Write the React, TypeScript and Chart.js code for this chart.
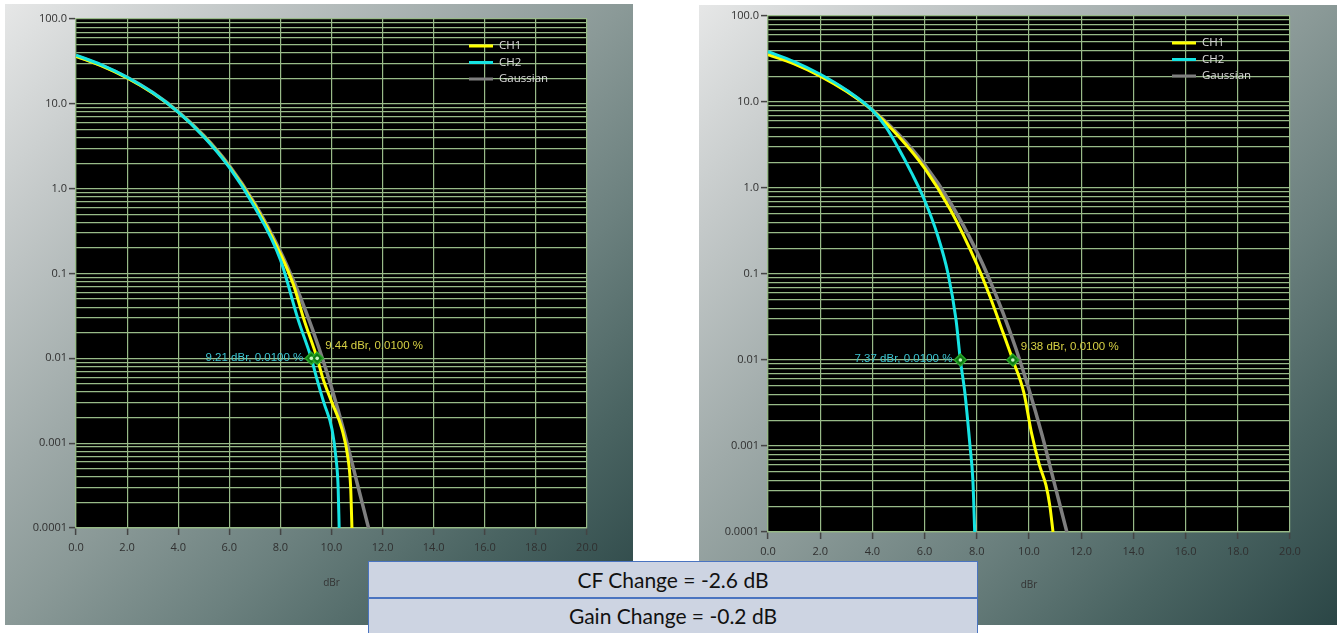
import React, { useEffect, useRef } from 'react';
import { Chart, registerables } from 'chart.js';

Chart.register(...registerables);

// ---------- data ----------
const X_TICKS = [0, 2, 4, 6, 8, 10, 12, 14, 16, 18, 20];
const Y_MAJOR = [0.0001, 0.001, 0.01, 0.1, 1, 10, 100];
const Y_LABELS = ['0.0001', '0.001', '0.01', '0.1', '1.0', '10.0', '100.0'];
const SERIES_NAMES = ['CH1', 'CH2', 'Gaussian'];
const X_TITLE = 'dBr';

const GAUSS_X = [0, 1, 2, 3, 4, 5, 6, 7, 8, 8.5, 9, 9.5, 10, 10.5, 11, 11.45];
const GAUSS_Y = [36.8, 28.4, 20.5, 13.6, 8.11, 4.23, 1.87, 0.665, 0.182, 0.0843, 0.0355, 0.0135, 0.00454, 0.00134, 0.000341, 0.0001];

// left chart
const L_CH1_X = [0, 1, 2, 3, 4, 5, 6, 7, 8, 8.5, 8.92, 9.44, 9.67, 10.0, 10.41, 10.65, 10.75, 10.8];
const L_CH1_Y = [36.3, 28.0, 20.2, 13.4, 8.0, 4.15, 1.82, 0.64, 0.17, 0.075, 0.0288, 0.01, 0.0057, 0.0031, 0.00146, 0.00065, 0.0003, 0.0001];
const L_CH2_X = [0, 1, 2, 3, 4, 5, 6, 7, 8, 8.69, 9.21, 9.43, 9.7, 10.02, 10.18, 10.26, 10.3];
const L_CH2_Y = [37.5, 28.8, 20.6, 13.6, 8.0, 4.1, 1.78, 0.6, 0.145, 0.0288, 0.01, 0.0057, 0.003, 0.00146, 0.00065, 0.0003, 0.0001];
const L_MARK_X = [9.21, 9.44];
const L_MARK_TEXT = ['9.21 dBr, 0.0100 %', '9.44 dBr, 0.0100 %'];

// right chart
const R_CH1_X = [0, 1, 2, 3, 4, 5, 6, 7, 8, 8.5, 9.0, 9.38, 9.8, 10.1, 10.4, 10.65, 10.8, 10.92];
const R_CH1_Y = [35.5, 27.8, 20.0, 13.3, 8.0, 4.0, 1.7, 0.55, 0.13, 0.055, 0.021, 0.01, 0.0042, 0.0014, 0.0006, 0.00035, 0.0002, 0.0001];
const R_CH2_X = [0, 1, 2, 3, 4, 4.5, 5, 5.5, 6, 6.5, 6.9, 7.2, 7.37, 7.55, 7.74, 7.85, 7.92];
const R_CH2_Y = [38.5, 29.5, 21.0, 13.8, 8.0, 5.2, 2.9, 1.5, 0.72, 0.28, 0.1, 0.03, 0.01, 0.004, 0.001, 0.0004, 0.0001];
const R_MARK_X = [7.37, 9.38];
const R_MARK_TEXT = ['7.37 dBr, 0.0100 %', '9.38 dBr, 0.0100 %'];

const MARK_Y = 0.01;

const BOX_TEXT = ['CF Change = -2.6 dB', 'Gain Change = -0.2 dB'];

// ---------- styles ----------
const C_CH1 = '#ffff00';
const C_CH2 = '#16e3e3';
const C_GAUSS = '#7f7f7f';
const GRID = '#98ba88';
const TICK_FONT = { family: '"Open Sans", "Noto Sans", sans-serif', size: 11 };
const TICK_COLOR = '#303030';
const LABEL_COLORS = ['#3cc6d2', '#d6d044'];

const zip = (xs: number[], ys: number[]) => xs.map((x, i) => ({ x, y: ys[i] }));

const yTickValues = (): number[] => {
  const out: number[] = [];
  Y_MAJOR.forEach((m, i) => {
    out.push(m);
    if (i < Y_MAJOR.length - 1) for (let k = 2; k <= 9; k++) out.push(parseFloat((m * k).toPrecision(6)));
  });
  return out;
};

const isMajor = (v: number) => Y_MAJOR.some((m) => Math.abs(v - m) / m < 1e-6);

interface Geo {
  w: number;
  h: number;
  padTop: number;
  padRight: number;
  yWidth: number;
  xHeight: number;
  titleBottom: number;
}

function makeChart(
  canvas: HTMLCanvasElement,
  geo: Geo,
  ch1: { x: number; y: number }[],
  ch2: { x: number; y: number }[],
  markX: number[],
  markText: string[]
) {
  const marks = markX.map((x) => ({ x, y: MARK_Y }));
  const overlay = {
    id: 'overlay',
    beforeDraw(chart: any) {
      const { ctx, chartArea: a } = chart;
      ctx.save();
      ctx.fillStyle = '#000000';
      ctx.fillRect(a.left, a.top, a.right - a.left, a.bottom - a.top);
      ctx.restore();
    },
    afterDraw(chart: any) {
      const { ctx, chartArea: a, scales } = chart;
      ctx.save();
      // legend
      const colors = [C_CH1, C_CH2, C_GAUSS];
      ctx.font = '11.5px "Open Sans", "Noto Sans", sans-serif';
      ctx.textBaseline = 'middle';
      SERIES_NAMES.forEach((name, i) => {
        const y = a.top + 27 + i * 16.5;
        const x0 = a.right - 118;
        ctx.strokeStyle = colors[i];
        ctx.lineWidth = 3;
        ctx.beginPath();
        ctx.moveTo(x0, y);
        ctx.lineTo(x0 + 24, y);
        ctx.stroke();
        ctx.fillStyle = '#dcdcdc';
        ctx.textAlign = 'left';
        ctx.fillText(name, x0 + 30, y);
      });
      // marker labels
      ctx.font = '11.5px "Liberation Sans", Arial, sans-serif';
      marks.forEach((m, i) => {
        const px = scales.x.getPixelForValue(m.x);
        const py = scales.y.getPixelForValue(m.y);
        ctx.fillStyle = LABEL_COLORS[i];
        if (i === 0) {
          ctx.textAlign = 'right';
          ctx.fillText(markText[i], px - 8, py - 1);
        } else {
          ctx.textAlign = 'left';
          ctx.fillText(markText[i], px + 8, py - 13);
        }
      });
      ctx.restore();
    },
  };

  const yVals = yTickValues();

  return new Chart(canvas, {
    type: 'scatter',
    data: {
      datasets: [
        {
          label: 'marker-center',
          data: marks,
          pointStyle: 'circle',
          pointRadius: 1.8,
          backgroundColor: '#c8f5c0',
          borderWidth: 0,
          showLine: false,
        },
        {
          label: 'marker',
          data: marks,
          pointStyle: 'rectRot',
          pointRadius: 6,
          backgroundColor: '#0c7a12',
          borderColor: '#2aa52a',
          borderWidth: 1.5,
          showLine: false,
        },
        {
          label: SERIES_NAMES[1],
          data: ch2,
          showLine: true,
          borderColor: C_CH2,
          borderWidth: 3,
          pointRadius: 0,
          cubicInterpolationMode: 'monotone',
        },
        {
          label: SERIES_NAMES[0],
          data: ch1,
          showLine: true,
          borderColor: C_CH1,
          borderWidth: 3,
          pointRadius: 0,
          cubicInterpolationMode: 'monotone',
        },
        {
          label: SERIES_NAMES[2],
          data: zip(GAUSS_X, GAUSS_Y),
          showLine: true,
          borderColor: C_GAUSS,
          borderWidth: 3.5,
          pointRadius: 0,
          cubicInterpolationMode: 'monotone',
        },
      ],
    },
    options: {
      responsive: false,
      animation: false,
      events: [],
      layout: { padding: { top: geo.padTop, right: geo.padRight, left: 0, bottom: 0 } },
      plugins: { legend: { display: false }, tooltip: { enabled: false } },
      scales: {
        x: {
          type: 'linear',
          min: 0,
          max: 20,
          afterBuildTicks: (s: any) => {
            s.ticks = X_TICKS.map((v) => ({ value: v }));
          },
          afterFit: (s: any) => {
            s.height = geo.xHeight;
          },
          ticks: {
            autoSkip: false,
            maxRotation: 0,
            padding: 6,
            font: TICK_FONT,
            color: TICK_COLOR,
            callback: (v: any) => Number(v).toFixed(1),
          },
          grid: { color: GRID, lineWidth: 1.2, tickLength: 7, tickColor: '#444444', tickWidth: 1.5 },
          border: { color: GRID, width: 1.2 },
          title: {
            display: true,
            text: X_TITLE,
            color: '#333333',
            font: { family: '"Open Sans", "Noto Sans", sans-serif', size: 10 },
            padding: { top: 0, bottom: geo.titleBottom },
          },
        },
        y: {
          type: 'logarithmic',
          min: 0.0001,
          max: 100,
          afterBuildTicks: (s: any) => {
            s.ticks = yVals.map((v) => ({ value: v, major: isMajor(v) }));
          },
          afterFit: (s: any) => {
            s.width = geo.yWidth;
          },
          ticks: {
            autoSkip: false,
            padding: 2,
            font: TICK_FONT,
            color: TICK_COLOR,
            callback: (v: any) => {
              const idx = Y_MAJOR.findIndex((m) => Math.abs(Number(v) - m) / m < 1e-6);
              return idx >= 0 ? Y_LABELS[idx] : '';
            },
          },
          grid: {
            color: GRID,
            lineWidth: 1.2,
            tickLength: 7,
            tickWidth: 1.5,
            tickColor: (ctx: any) => (ctx.tick && isMajor(ctx.tick.value) ? '#444444' : 'rgba(0,0,0,0)'),
          },
          border: { color: GRID, width: 1.2 },
        },
      },
    },
    plugins: [overlay],
  } as any);
}

const PANEL_BG =
  'linear-gradient(135deg, #e6e7e7 0%, #c4c9c9 18%, #9faaa9 38%, #8a9997 50%, #6b807e 66%, #4a6462 82%, #2b4646 100%)';

const LEFT_GEO: Geo = { w: 628, h: 621, padTop: 15, padRight: 46, yWidth: 71, xHeight: 97, titleBottom: 36 };
const RIGHT_GEO: Geo = { w: 638, h: 620, padTop: 11, padRight: 47, yWidth: 69, xHeight: 93, titleBottom: 34 };

export default function App() {
  const leftRef = useRef<HTMLCanvasElement>(null);
  const rightRef = useRef<HTMLCanvasElement>(null);

  useEffect(() => {
    document.body.style.margin = '0';
    document.body.style.overflow = 'hidden';
    const c1 = makeChart(leftRef.current!, LEFT_GEO, zip(L_CH1_X, L_CH1_Y), zip(L_CH2_X, L_CH2_Y), L_MARK_X, L_MARK_TEXT);
    const c2 = makeChart(rightRef.current!, RIGHT_GEO, zip(R_CH1_X, R_CH1_Y), zip(R_CH2_X, R_CH2_Y), R_MARK_X, R_MARK_TEXT);
    return () => {
      c1.destroy();
      c2.destroy();
    };
  }, []);

  const boxStyle = (top: number, height: number): React.CSSProperties => ({
    position: 'absolute',
    left: 368,
    top,
    width: 608,
    height,
    background: '#cdd4e2',
    border: '1px solid #4a74c0',
    display: 'flex',
    alignItems: 'center',
    justifyContent: 'center',
    fontFamily: 'Lato, "Open Sans", sans-serif',
    fontSize: 21,
    color: '#111111',
    boxSizing: 'content-box',
  });

  return (
    <div style={{ position: 'absolute', left: 0, top: 0, width: 1337, height: 633, background: '#ffffff', overflow: 'hidden' }}>
      <div style={{ position: 'absolute', left: 5, top: 4, width: LEFT_GEO.w, height: LEFT_GEO.h, background: PANEL_BG }}>
        <canvas ref={leftRef} width={LEFT_GEO.w} height={LEFT_GEO.h} style={{ display: 'block' }} />
      </div>
      <div style={{ position: 'absolute', left: 699, top: 5, width: RIGHT_GEO.w, height: RIGHT_GEO.h, background: PANEL_BG }}>
        <canvas ref={rightRef} width={RIGHT_GEO.w} height={RIGHT_GEO.h} style={{ display: 'block' }} />
      </div>
      <div style={boxStyle(561, 35)}>{BOX_TEXT[0]}</div>
      <div style={{ ...boxStyle(598, 40), alignItems: 'flex-start', paddingTop: 4, height: 36 }}>{BOX_TEXT[1]}</div>
    </div>
  );
}
